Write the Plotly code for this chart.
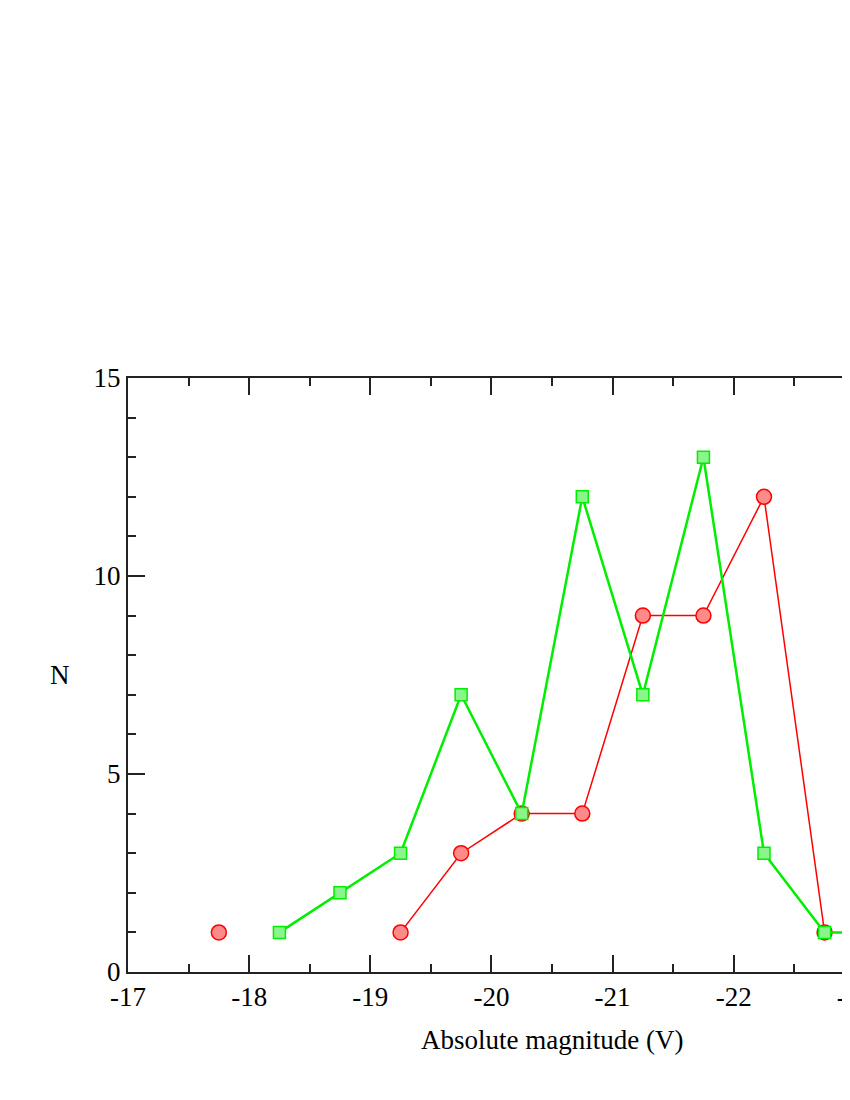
import plotly.graph_objects as go

# magnitude bins (bin centres)
red_mag = [-17.75, -18.25, -18.75, -19.25, -19.75, -20.25, -20.75, -21.25, -21.75, -22.25, -22.75]
red_n = [1, None, None, 1, 3, 4, 4, 9, 9, 12, 1]

green_mag = [-18.25, -18.75, -19.25, -19.75, -20.25, -20.75, -21.25, -21.75, -22.25, -22.75, -23.25]
green_n = [1, 2, 3, 7, 4, 12, 7, 13, 3, 1, 1]

x_ticks = [-17, -18, -19, -20, -21, -22, -23, -24]
x_labels = ["-17", "-18", "-19", "-20", "-21", "-22", "-23", "-24"]
y_ticks = [0, 5, 10, 15]
y_labels = ["0", "5", "10", "15"]

font = "Liberation Serif, Times New Roman, serif"

fig = go.Figure()
fig.add_trace(go.Scatter(
    x=red_mag, y=red_n, mode="lines+markers", connectgaps=False,
    line=dict(color="#ff0000", width=1.5),
    marker=dict(symbol="circle", size=15, color="#ff8a8a",
                line=dict(color="#ff0000", width=1.5)),
))
fig.add_trace(go.Scatter(
    x=green_mag, y=green_n, mode="lines+markers",
    line=dict(color="#00ee00", width=2.5),
    marker=dict(symbol="square", size=12, color="#8af58a",
                line=dict(color="#00ee00", width=1.5)),
))

axis_common = dict(
    showline=True, linecolor="#222222", linewidth=2, mirror="ticks",
    ticks="inside", ticklen=17, tickwidth=2, tickcolor="#222222",
    showgrid=False, zeroline=False,
    tickfont=dict(family=font, size=27, color="black"),
)

fig.update_xaxes(
    range=[-17, -24], tickvals=x_ticks, ticktext=x_labels,
    minor=dict(ticks="inside", ticklen=8, tickwidth=2, tickcolor="#222222", dtick=0.5, showgrid=False),
    **axis_common,
)
fig.update_yaxes(
    range=[0, 15], tickvals=y_ticks, ticktext=y_labels,
    minor=dict(ticks="inside", ticklen=8, tickwidth=2, tickcolor="#222222", dtick=1, showgrid=False),
    **axis_common,
)

fig.add_annotation(text="N", xref="paper", yref="paper", x=-0.0796, y=0.5,
                   xanchor="center", yanchor="middle", showarrow=False,
                   font=dict(family=font, size=27, color="black"))
fig.add_annotation(text="Absolute magnitude (V)", xref="paper", yref="paper", x=0.5, y=-0.1145,
                   xanchor="center", yanchor="middle", showarrow=False,
                   font=dict(family=font, size=27, color="black"))

# figure is wider than the window on purpose, the right part is cropped like the original
fig.update_layout(
    width=1100, height=1060,
    margin=dict(l=120, r=132, t=370, b=96),
    paper_bgcolor="white", plot_bgcolor="white",
    showlegend=False,
    font=dict(family=font, size=27, color="black"),
)

fig.write_html("out.html")
